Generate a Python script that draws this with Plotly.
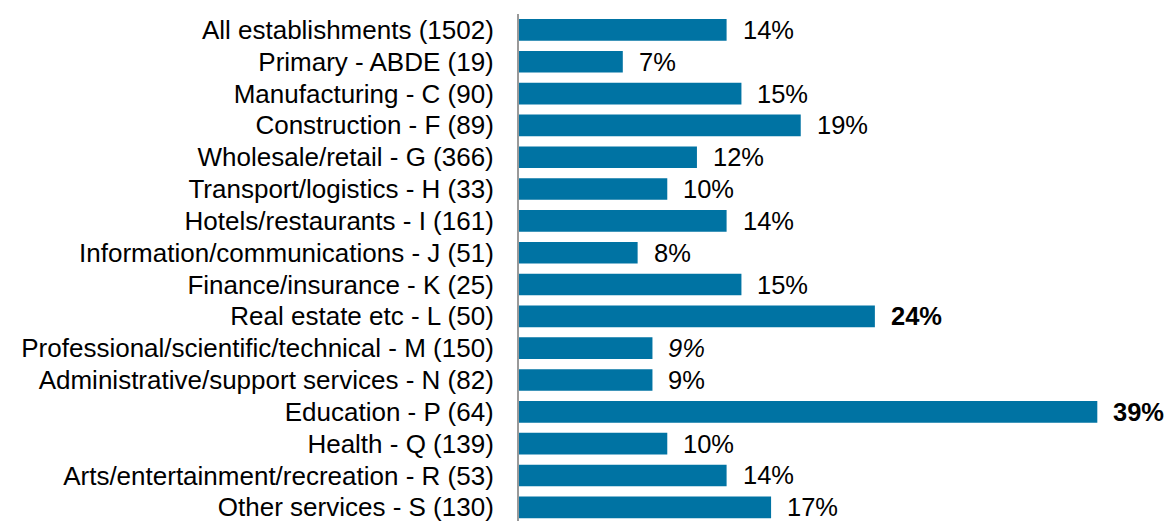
import plotly.graph_objects as go

# sectors (sample size in brackets) and share of establishments
sectors = [
    "All establishments (1502)",
    "Primary - ABDE (19)",
    "Manufacturing - C (90)",
    "Construction - F (89)",
    "Wholesale/retail - G (366)",
    "Transport/logistics - H (33)",
    "Hotels/restaurants - I (161)",
    "Information/communications - J (51)",
    "Finance/insurance - K (25)",
    "Real estate etc - L (50)",
    "Professional/scientific/technical - M (150)",
    "Administrative/support services - N (82)",
    "Education - P (64)",
    "Health - Q (139)",
    "Arts/entertainment/recreation - R (53)",
    "Other services - S (130)",
]
pct = [14, 7, 15, 19, 12, 10, 14, 8, 15, 24, 9, 9, 39, 10, 14, 17]

# label emphasis
bold_rows = {"Real estate etc - L (50)", "Education - P (64)"}
italic_rows = {"Professional/scientific/technical - M (150)"}

FONT = "Liberation Sans, Arial, sans-serif"
BAR = "#0073a3"

ypos = list(range(len(sectors)))

fig = go.Figure()
fig.add_trace(go.Bar(
    x=pct,
    y=ypos,
    orientation="h",
    marker=dict(color=BAR, line=dict(width=0)),
    hoverinfo="skip",
))

# value labels to the right of each bar
for i, (name, v) in enumerate(zip(sectors, pct)):
    txt = f"{v}%"
    if name in bold_rows:
        txt = f"<b>{txt}</b>"
    elif name in italic_rows:
        txt = f"<i>{txt}</i>"
    fig.add_annotation(
        x=v, y=i, text=txt, showarrow=False,
        xanchor="left", yanchor="middle", xshift=14,
        font=dict(family=FONT, size=25.5, color="black"),
    )

# page body adds 8px around the figure, so the figure is a bit smaller
fig.update_layout(
    width=1159, height=513,
    margin=dict(l=511, r=0, t=6, b=0),
    paper_bgcolor="white",
    plot_bgcolor="white",
    bargap=0.32,
    showlegend=False,
    font=dict(family=FONT, size=26, color="black"),
)
fig.update_xaxes(
    range=[0, 43.7],
    visible=False,
    showgrid=False,
    zeroline=False,
    automargin=False,
)
fig.update_yaxes(
    tickmode="array",
    tickvals=ypos,
    ticktext=sectors,
    range=[15.43, -0.5],
    showgrid=False,
    zeroline=False,
    showline=True,
    linecolor="#999999",
    linewidth=2,
    ticks="",
    ticklabelstandoff=18,
    ticklabeloverflow="allow",
    automargin=False,
    tickfont=dict(family=FONT, size=26, color="black"),
)

fig.write_html("out.html")
